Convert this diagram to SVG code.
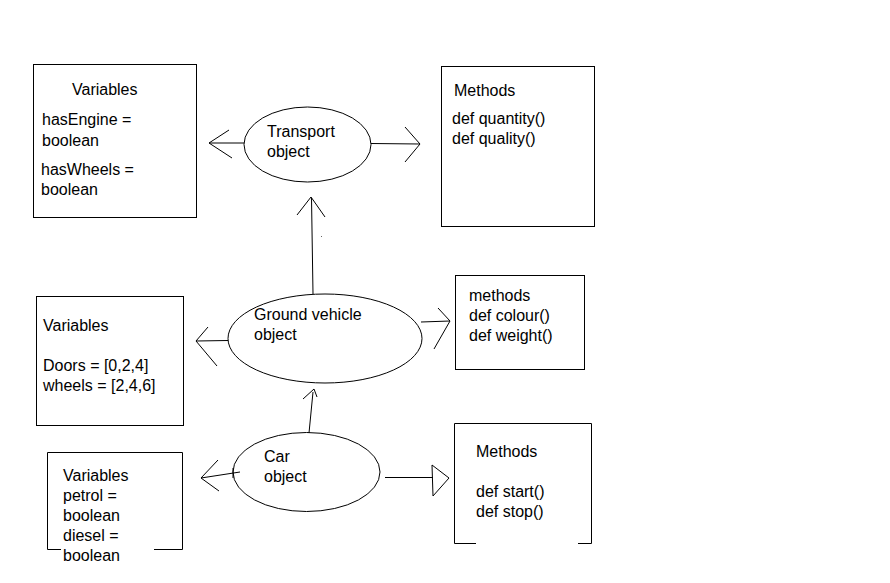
<svg xmlns="http://www.w3.org/2000/svg" width="890" height="583" viewBox="0 0 890 583">
<style>
.s{fill:none;stroke:#000;stroke-width:1}
text{font-family:"Liberation Sans",Arial,sans-serif;font-size:16px;fill:#000}
</style>
<rect width="890" height="583" fill="#fff"/>
<g id="transport-vars">
<rect class="s" x="33.5" y="64.5" width="163" height="153"/>
<text x="72" y="95">Variables</text>
<text x="42" y="125">hasEngine =</text>
<text x="42" y="146">boolean</text>
<text x="41" y="175">hasWheels =</text>
<text x="41" y="195">boolean</text>
</g>
<g id="transport">
<ellipse class="s" cx="307.5" cy="144.5" rx="63.5" ry="37.5"/>
<text x="267" y="137">Transport</text>
<text x="267" y="157">object</text>
</g>
<g id="transport-methods">
<rect class="s" x="441.5" y="66.5" width="153" height="160"/>
<text x="454" y="96">Methods</text>
<text x="452" y="124">def quantity()</text>
<text x="452" y="144">def quality()</text>
</g>
<g id="ground-vars">
<rect class="s" x="36.5" y="296.5" width="147" height="129"/>
<text x="43" y="331">Variables</text>
<text x="43" y="371">Doors = [0,2,4]</text>
<text x="43" y="391">wheels = [2,4,6]</text>
</g>
<g id="ground-vehicle">
<ellipse class="s" cx="325" cy="338.5" rx="97" ry="44.5"/>
<text x="254" y="320">Ground vehicle</text>
<text x="254" y="340">object</text>
</g>
<g id="ground-methods">
<rect class="s" x="455.5" y="275.5" width="129" height="94"/>
<text x="469" y="301">methods</text>
<text x="469" y="321">def colour()</text>
<text x="469" y="341">def weight()</text>
</g>
<g id="car-vars">
<path class="s" d="M61,549.5 H47.5 V452.5 H182.5 V549.5 H154"/>
<text x="63" y="481">Variables</text>
<text x="63" y="501">petrol =</text>
<text x="63" y="521">boolean</text>
<text x="63" y="541">diesel =</text>
<text x="63" y="561">boolean</text>
</g>
<g id="car">
<ellipse class="s" cx="306.5" cy="472" rx="73.5" ry="39.5"/>
<text x="264" y="462">Car</text>
<text x="264" y="482">object</text>
</g>
<g id="car-methods">
<path class="s" d="M476,543.5 H454.5 V423.5 H591.5 V543.5 H578"/>
<text x="476" y="457">Methods</text>
<text x="476" y="497">def start()</text>
<text x="476" y="517">def stop()</text>
</g>
<g id="connectors" class="s">
<path d="M244,143 H209 M229,130 L209,143 L232,158"/>
<path d="M371,143.5 L420,144 M405,127 L420,144 L405,162"/>
<path d="M313,294 L311.5,198 M297,215 L311,197 L325,217"/>
<path d="M421,322 L450,321 M438,308 L450,321 L434,349"/>
<path d="M228,340.5 L196,341 M208,327 L196,341 L217,366"/>
<path d="M309,433 L313,392 M303,399 L314,389 L317,397"/>
<path d="M240,472 L201,478 M218,460 L201,478 L219,491 M233,468 V478"/>
<path d="M385,477.5 H433 M432,465 L449,478 L433,496 Z"/>
<rect x="321" y="236" width="1" height="1" fill="#666" stroke="none"/>
</g>
</svg>
